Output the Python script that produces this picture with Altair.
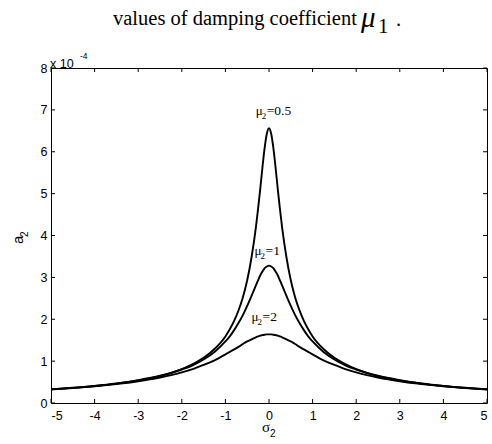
import altair as alt
import pandas as pd

# detuning sigma_2 sample points
sigma = [-5, -4.5, -4, -3.5, -3, -2.5, -2, -1.75, -1.5, -1.25, -1,
         -0.9, -0.8, -0.7, -0.6, -0.5, -0.4, -0.3, -0.25, -0.2, -0.15, -0.1, -0.05, 0,
         0.05, 0.1, 0.15, 0.2, 0.25, 0.3, 0.4, 0.5, 0.6, 0.7, 0.8, 0.9,
         1, 1.25, 1.5, 1.75, 2, 2.5, 3, 3.5, 4, 4.5, 5]

# response amplitude a_2 (x 1e-4) for each damping value mu_2, left half up to the peak
half_05 = [0.328, 0.364, 0.409, 0.467, 0.545, 0.65, 0.81, 0.93, 1.08, 1.29, 1.59,
           1.76, 1.96, 2.21, 2.52, 2.93, 3.48, 4.20, 4.64, 5.12, 5.63, 6.09, 6.43]
half_1 = [0.326, 0.362, 0.407, 0.464, 0.539, 0.643, 0.80, 0.90, 1.04, 1.22, 1.47,
          1.59, 1.74, 1.91, 2.10, 2.32, 2.56, 2.81, 2.93, 3.05, 3.14, 3.22, 3.26]
half_2 = [0.322, 0.356, 0.398, 0.451, 0.519, 0.609, 0.73, 0.81, 0.91, 1.02, 1.16,
          1.22, 1.28, 1.34, 1.41, 1.47, 1.52, 1.57, 1.59, 1.61, 1.62, 1.63, 1.638]
a_mu05 = half_05 + [6.56] + half_05[::-1]
a_mu1 = half_1 + [3.28] + half_1[::-1]
a_mu2 = half_2 + [1.64] + half_2[::-1]

mu_values = ["0.5", "1", "2"]
label_sigma = [-0.305, -0.33, -0.40]
label_a = [6.88, 3.54, 1.97]

x_ticks = [-5, -4, -3, -2, -1, 0, 1, 2, 3, 4, 5]
y_ticks = [0, 1, 2, 3, 4, 5, 6, 7, 8]

rows = []
for mu, vals in zip(mu_values, [a_mu05, a_mu1, a_mu2]):
    for s, v in zip(sigma, vals):
        rows.append({"sigma": s, "a": v, "mu": mu})
df = pd.DataFrame(rows)
labels = pd.DataFrame({"sigma": label_sigma, "a": label_a,
                       "eq": ["=" + m for m in mu_values]})
xt = pd.DataFrame({"sigma": x_ticks})
yt = pd.DataFrame({"a": y_ticks})

W, H, TICK = 436, 335, 4
xscale = alt.Scale(domain=[-5, 5], nice=False, zero=False)
yscale = alt.Scale(domain=[0, 8], nice=False)

SANS = "Liberation Sans"
SERIF = "Liberation Serif"

curves = alt.Chart(df).mark_line(color="black", strokeWidth=1.9,
                                 interpolate="monotone").encode(
    x=alt.X("sigma:Q", scale=xscale,
            axis=alt.Axis(values=x_ticks, orient="bottom", title=None,
                          domain=False, grid=False, ticks=False,
                          labelExpr="datum.value + ''",
                          labelPadding=6, labelFont=SANS, labelFontSize=12.5,
                          labelColor="black")),
    y=alt.Y("a:Q", scale=yscale,
            axis=alt.Axis(values=y_ticks, orient="left", title=None,
                          domain=False, grid=False, ticks=False,
                          labelExpr="datum.value + ''",
                          labelPadding=4, labelFont=SANS, labelFontSize=12.5,
                          labelColor="black")),
    detail="mu:N",
)

# inward tick marks on all four sides of the box
tick_style = dict(color="black", strokeWidth=1)
xt_base = alt.Chart(xt).encode(x=alt.X("sigma:Q", scale=xscale))
yt_base = alt.Chart(yt).encode(y=alt.Y("a:Q", scale=yscale))
ticks = [
    xt_base.mark_rule(**tick_style).encode(y=alt.value(H), y2=alt.value(H - TICK)),
    xt_base.mark_rule(**tick_style).encode(y=alt.value(0), y2=alt.value(TICK)),
    yt_base.mark_rule(**tick_style).encode(x=alt.value(0), x2=alt.value(TICK)),
    yt_base.mark_rule(**tick_style).encode(x=alt.value(W), x2=alt.value(W - TICK)),
]

# curve labels  mu_2=...
lab_base = alt.Chart(labels).encode(x=alt.X("sigma:Q", scale=xscale),
                                    y=alt.Y("a:Q", scale=yscale))
lab_mu = lab_base.mark_text(text="μ", font=SERIF, fontSize=13, align="left",
                            baseline="alphabetic", color="black")
lab_sub = lab_base.mark_text(text="2", font=SERIF, fontSize=9, align="left",
                             baseline="alphabetic", dx=6, dy=4, color="black")
lab_eq = lab_base.mark_text(font=SERIF, fontSize=13.5, align="left",
                            baseline="alphabetic", dx=11, color="black").encode(text="eq:N")

one = alt.Data(values=[{}])


def txt(s, x, y, size, font=SANS, style="normal", angle=0, align="left"):
    return alt.Chart(one).mark_text(
        text=s, font=font, fontSize=size, fontStyle=style, angle=angle,
        align=align, baseline="alphabetic", color="black"
    ).encode(x=alt.value(x), y=alt.value(y))


heading = [
    txt("values of damping coefficient", 62, -43, 20.5, font=SERIF),
    txt("μ", 310, -41, 29, font=SERIF, style="italic"),
    txt("1", 327, -35, 21, font=SERIF),
    txt(".", 345, -42, 20.5, font=SERIF),
]
multiplier = [
    txt("x 10", -1, 0, 12.5),
    txt("-4", 29, -9, 8.5),
]
xtitle = [
    txt("σ", 211, 364, 15, font=SERIF),
    txt("2", 219, 369, 10),
]
ytitle = [
    txt("a", -28, 176, 15, angle=270),
    txt("2", -23, 169, 10, angle=270),
]

chart = alt.layer(
    curves, *ticks, lab_mu, lab_sub, lab_eq,
    *heading, *multiplier, *xtitle, *ytitle,
).properties(
    width=W, height=H,
    autosize=alt.AutoSizeParams(type="none"),
    padding={"left": 51, "top": 68, "right": 5, "bottom": 41},
    background="white",
).configure_view(stroke="black", strokeWidth=1)

chart.save("out.html", embed_options={"renderer": "svg", "actions": False})
